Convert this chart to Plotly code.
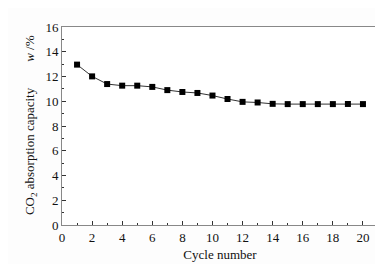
import plotly.graph_objects as go

cycles = list(range(1, 21))
capacity = [12.96, 12.01, 11.39, 11.26, 11.26, 11.16, 10.90, 10.75, 10.67, 10.46,
            10.18, 9.95, 9.90, 9.79, 9.77, 9.77, 9.77, 9.77, 9.78, 9.77]
x_ticks = [0, 2, 4, 6, 8, 10, 12, 14, 16, 18, 20]
y_ticks = [0, 2, 4, 6, 8, 10, 12, 14, 16]

font = dict(family="Liberation Serif, Times New Roman, serif", size=13, color="#111")

fig = go.Figure()
fig.add_trace(go.Scatter(
    x=cycles, y=capacity, mode="lines+markers",
    line=dict(color="#333", width=1),
    marker=dict(symbol="square", size=6, color="#000"),
    showlegend=False,
))

axis_common = dict(
    showline=True, linecolor="#888", linewidth=1, mirror=True,
    ticks="inside", ticklen=4, tickcolor="#333", tickwidth=1,
    showgrid=False, zeroline=False, tickfont=font,
)

fig.update_layout(
    width=383, height=264,
    margin=dict(l=54, r=13, t=13, b=44),
    paper_bgcolor="#fdfdfd", plot_bgcolor="#ffffff",
    font=font,
    xaxis=dict(range=[0, 21], tickvals=x_ticks,
               minor=dict(ticks="inside", ticklen=2, dtick=1, tick0=0, tickcolor="#333"),
               title=dict(text="Cycle number", font=font, standoff=6),
               **axis_common),
    yaxis=dict(range=[0, 16], tickvals=y_ticks,
               minor=dict(ticks="inside", ticklen=2, dtick=1, tick0=0, tickcolor="#333"),
               **axis_common),
    annotations=[dict(
        text="CO<sub>2</sub> absorption capacity\u2003\u2003<i>w</i> /%",
        textangle=-90, xref="paper", yref="paper",
        x=-0.101, y=0.505, xanchor="center", yanchor="middle",
        showarrow=False, font=font,
    )],
)

fig.write_html("out.html")
